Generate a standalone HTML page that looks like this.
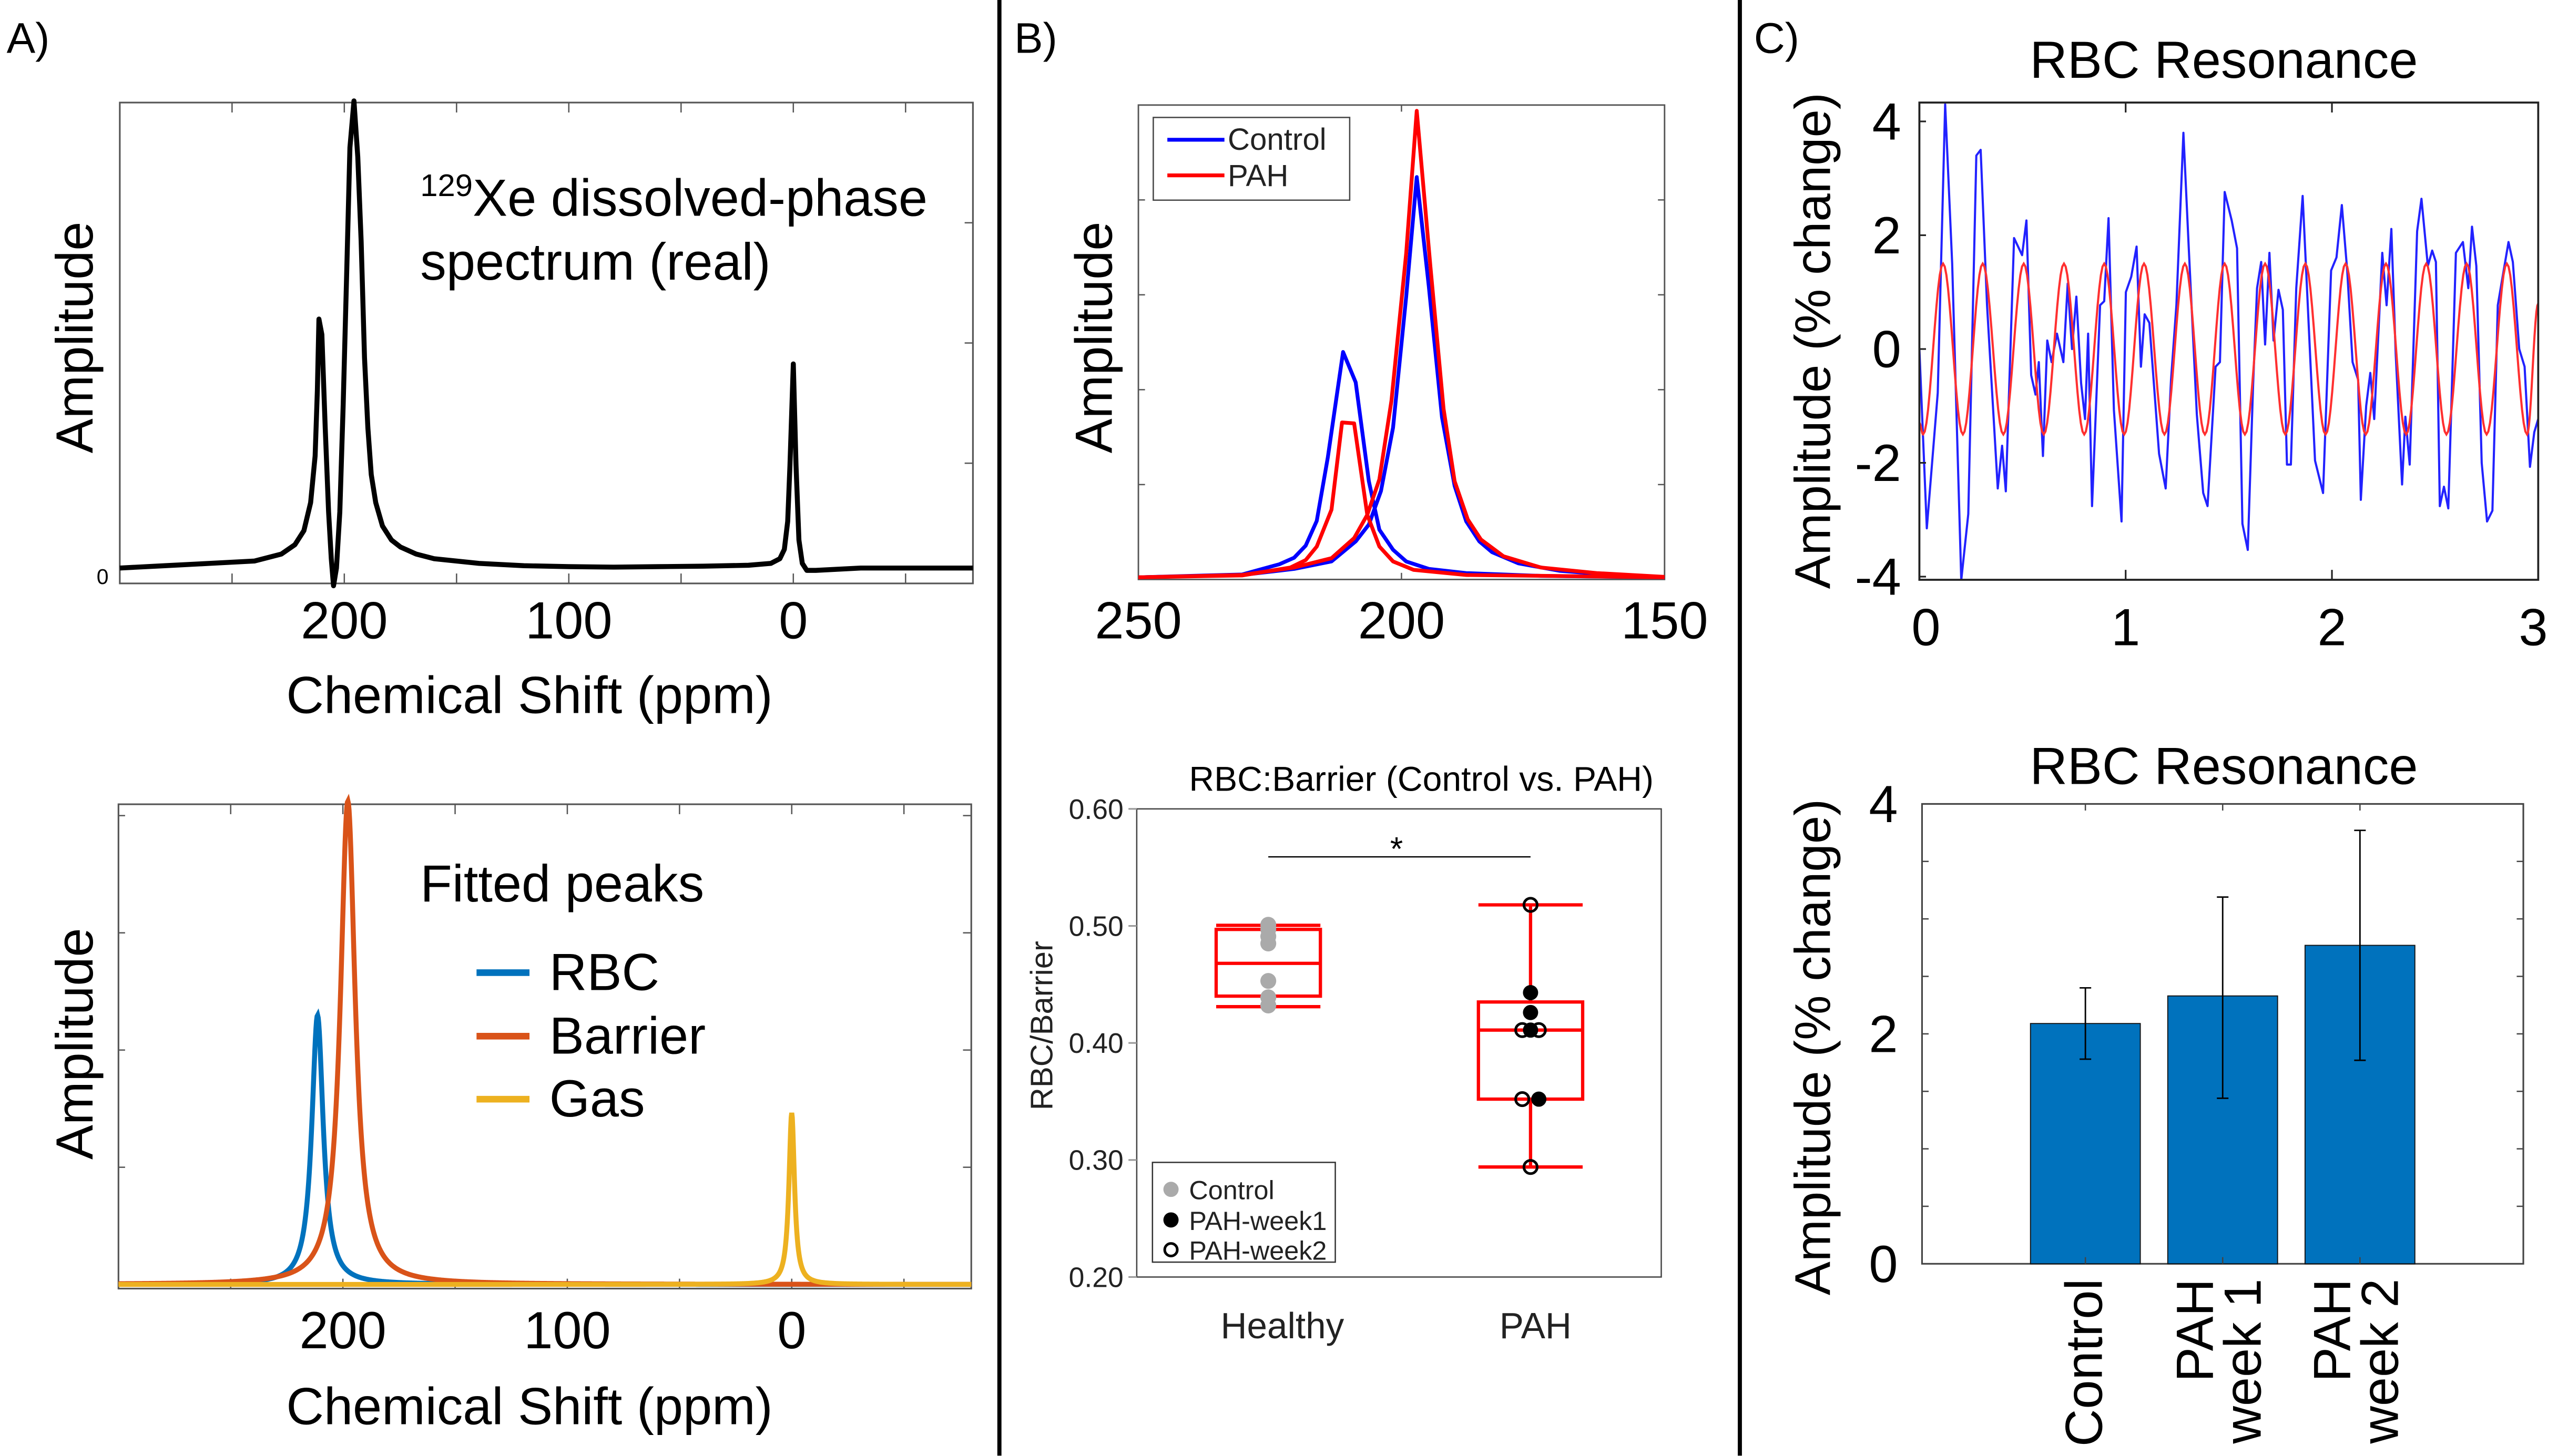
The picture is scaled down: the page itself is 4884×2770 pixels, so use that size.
<!DOCTYPE html>
<html><head><meta charset="utf-8"><style>
html,body{margin:0;padding:0;background:#fff;}
svg{display:block;font-family:"Liberation Sans",Arial,sans-serif;}
</style></head><body>
<svg id="fig" xmlns="http://www.w3.org/2000/svg" width="4884" height="2770" viewBox="0 0 1552 880.2" preserveAspectRatio="none"></svg>
<script>
// ---------- DATA ----------
// Panel A top: dissolved-phase spectrum (ppm, amplitude)
const specPpm = [300,280,260,240,228,222,218,215,213,212,211.3,210,208.5,207,205.8,204.8,203.5,202,200.5,199,197.5,195.7,194,192.5,191,189.5,188,186,183,179,175,168,160,140,120,100,80,60,40,20,10,6,4,2.5,1.5,0,-1.2,-2.5,-4,-6,-10,-30,-50,-80];
const specAmp = [0.0,0.005,0.01,0.015,0.03,0.05,0.08,0.14,0.24,0.38,0.533,0.50,0.30,0.12,0.02,-0.038,0.0,0.12,0.35,0.62,0.9,1.0,0.88,0.7,0.45,0.3,0.2,0.14,0.09,0.06,0.045,0.03,0.02,0.01,0.005,0.003,0.002,0.003,0.004,0.006,0.01,0.02,0.04,0.1,0.22,0.437,0.22,0.06,0.01,-0.005,-0.005,0.0,0.0,0.0];
// Panel A bottom: fitted peaks
const fitNames = ["RBC","Barrier","Gas"];
const fitCenters = [211.3,197.8,0];
const fitHeights = [0.557,1.0,0.355];
const fitWidths = [6.2,8,3];
// Panel B top: control vs PAH fitted components
const cRbcPpm = [250,230.3,223.2,220.4,218.2,216.1,214.0,211.1,208.7,206.2,204.2,201.6,199.1,194.8,187.7,173.5,150];
const cRbcAmp = [0,0.006,0.028,0.042,0.068,0.121,0.257,0.483,0.418,0.206,0.102,0.059,0.034,0.018,0.009,0.003,0];
const cBarPpm = [250,230.3,220.4,213.3,208.7,206.2,203.9,201.6,199.1,197.1,194.8,192.3,189.9,187.7,185.2,182.8,177.8,170.0,159.4,150];
const cBarAmp = [0,0.005,0.018,0.034,0.077,0.113,0.185,0.321,0.602,0.858,0.623,0.343,0.196,0.120,0.077,0.054,0.030,0.014,0.005,0];
const pRbcPpm = [250,230.3,221.1,218.2,216.1,213.3,211.3,209.0,206.5,204.2,201.6,197.7,187.7,150];
const pRbcAmp = [0,0.004,0.021,0.037,0.066,0.145,0.332,0.330,0.134,0.066,0.034,0.016,0.005,0];
const pBarPpm = [250,230.3,220.4,213.3,209.0,206.5,204.2,201.9,199.1,197.1,194.5,192.0,189.9,187.4,184.9,180.6,173.5,162.9,150];
const pBarAmp = [0,0.005,0.021,0.041,0.084,0.134,0.210,0.379,0.695,1.0,0.666,0.361,0.206,0.124,0.081,0.045,0.021,0.009,0.001];
// Panel B bottom: box plots
const boxCats = ["Healthy","PAH"];
const boxWhiskLo = [0.431,0.294];
const boxQ1 = [0.440,0.352];
const boxMed = [0.468,0.411];
const boxQ3 = [0.497,0.435];
const boxWhiskHi = [0.5005,0.518];
const controlPts = [0.501,0.497,0.491,0.485,0.453,0.439,0.432];
const week1Pts = [0.443,0.426,0.411,0.352];
const week1Off = [0,0,0,1];
const week2Pts = [0.518,0.411,0.411,0.352,0.294];
const week2Off = [0,-1,1,-1,0];
// Panel C top: RBC oscillation
const oscT = [0,0.036,0.089,0.125,0.159,0.203,0.237,0.276,0.297,0.328,0.380,0.401,0.419,0.459,0.498,0.519,0.542,0.563,0.579,0.599,0.620,0.641,0.667,0.698,0.719,0.740,0.761,0.784,0.803,0.818,0.837,0.876,0.896,0.917,0.943,0.980,1.001,1.027,1.053,1.074,1.092,1.115,1.162,1.194,1.220,1.246,1.280,1.306,1.345,1.376,1.397,1.436,1.457,1.480,1.514,1.540,1.566,1.592,1.618,1.637,1.657,1.676,1.697,1.717,1.741,1.762,1.782,1.801,1.827,1.858,1.879,1.918,1.957,1.996,2.022,2.048,2.074,2.100,2.127,2.140,2.166,2.186,2.205,2.244,2.265,2.288,2.309,2.340,2.356,2.377,2.413,2.434,2.465,2.486,2.504,2.523,2.543,2.564,2.601,2.635,2.661,2.679,2.700,2.726,2.752,2.778,2.804,2.856,2.877,2.908,2.934,2.960,2.981,3.0];
const oscV = [0,-3.15,-0.77,4.3,1.5,-4.06,-2.9,3.4,3.5,0.77,-2.45,-1.7,-2.5,1.95,1.65,2.26,-0.46,-0.8,-0.23,-1.88,0.15,-0.23,0.27,-0.23,1.15,0,0.92,-0.6,-1.23,0.27,-2.76,0.77,0.84,2.3,-1.07,-3.03,1.0,1.27,1.8,-0.31,0.61,0.46,-1.84,-2.45,-0.54,0.77,3.8,1.77,-1.15,-2.53,-2.76,-0.31,-0.23,2.76,2.26,1.77,-3.07,-3.53,-0.61,1.07,1.53,0.08,1.69,0.15,1.04,0.69,-2.03,-2.03,1.07,2.69,1.07,-1.96,-2.53,1.38,1.61,2.53,1.38,-0.23,-0.54,-2.65,-1.0,-0.42,-1.23,1.69,0.77,2.11,-0.08,-2.38,-1.19,-2.03,2.07,2.64,1.46,1.73,1.53,-2.76,-2.42,-2.8,1.69,1.88,1.07,2.15,1.46,-2.0,-3.03,-2.84,0.77,1.88,1.53,0,-0.31,-2.07,-1.46,-1.23];
const fitT = [0,0.018,0.115,0.211,0.307,0.407,0.506,0.603,0.701,0.799,0.896,0.993,1.089,1.188,1.287,1.384,1.480,1.578,1.676,1.774,1.871,1.969,2.066,2.164,2.262,2.360,2.457,2.555,2.653,2.750,2.848,2.946,3.0];
const fitV = [-1.3,-1.5,1.5,-1.5,1.5,-1.5,1.5,-1.5,1.5,-1.5,1.5,-1.5,1.5,-1.5,1.5,-1.5,1.5,-1.5,1.5,-1.5,1.5,-1.5,1.5,-1.5,1.5,-1.5,1.5,-1.5,1.5,-1.5,1.5,-1.5,0.8];
const cYTicks = [4,2,0,-2,-4];
const cXTicks = [0,1,2,3];
// Panel C bottom: bars
const barCats = [["Control"],["PAH","week 1"],["PAH","week 2"]];
const barVals = [2.09,2.33,2.77];
const barLo = [1.78,1.44,1.77];
const barHi = [2.40,3.19,3.77];

// ---------- HELPERS ----------
const NS="http://www.w3.org/2000/svg";
const svg=document.getElementById('fig');
const BIG=31.5;
function mk(tag,attrs,parent){const e=document.createElementNS(NS,tag);for(const k in attrs)e.setAttribute(k,attrs[k]);(parent||svg).appendChild(e);return e;}
function txt(s,x,y,size,opts,parent){opts=opts||{};const e=mk('text',{x:x,y:y,'font-size':size,'text-anchor':opts.anchor||'start',fill:opts.fill||'#000'},parent);if(opts.rot)e.setAttribute('transform','rotate(-90 '+x+' '+y+')');e.textContent=s;return e;}
function lin(d0,d1,r0,r1){return v=>r0+(v-d0)/(d1-d0)*(r1-r0);}
function pathFrom(xs,ys,fx,fy){return xs.map((x,i)=>(i?'L':'M')+fx(x).toFixed(2)+','+fy(ys[i]).toFixed(2)).join(' ');}

// ---------- PANEL LABELS / DIVIDERS ----------
let t;
t=txt('A)',4,32,26);
t=txt('B)',613,32,26);
t=txt('C)',1060,32,26);
let d=mk('line',{x1:604,y1:0,x2:604,y2:880,stroke:'#000','stroke-width':2.5});

d=mk('line',{x1:1051.5,y1:0,x2:1051.5,y2:880,stroke:'#000','stroke-width':2.5});


// ---------- PANEL A TOP ----------
(function(){
  const g=mk('g',{});
  const L=72.4,R=588,T=62,B=352.7;
  const fx=lin(300,-80,L,R), fy=lin(0,1,343.4,61);
  mk('rect',{x:L,y:T,width:R-L,height:B-T,fill:'none',stroke:'#555','stroke-width':1},g);
  for(let p=250;p>=-50;p-=50){mk('line',{x1:fx(p),y1:T,x2:fx(p),y2:T+6,stroke:'#555','stroke-width':0.8},g);mk('line',{x1:fx(p),y1:B,x2:fx(p),y2:B-6,stroke:'#555','stroke-width':0.8},g);}
  [0.25,0.5,0.75].forEach(f=>{const y=B-(B-T)*f;mk('line',{x1:R,y1:y,x2:R-5,y2:y,stroke:'#555','stroke-width':0.8},g);});
  const p=mk('path',{d:pathFrom(specPpm,specAmp,fx,fy),fill:'none',stroke:'#000','stroke-width':3,'stroke-linejoin':'round'},g);
  
  [200,100,0].forEach(v=>{const e=txt(String(v),fx(v),386,BIG,{anchor:'middle'},g);});
  let e=txt('0',62,353,13,{anchor:'middle'},g);
  e=txt('Chemical Shift (ppm)',320,431,BIG,{anchor:'middle'},g);
  e=txt('Amplitude',56,204,BIG,{anchor:'middle',rot:1},g);
  e=mk('text',{x:254,y:130.5,'font-size':BIG},g);e.innerHTML='<tspan font-size="19" dy="-12">129</tspan><tspan dy="12">Xe dissolved-phase</tspan>';
  
  e=txt('spectrum (real)',254,169,BIG,{},g);
})();

// ---------- PANEL A BOTTOM ----------
(function(){
  const g=mk('g',{});
  const L=71.6,R=587,T=486.2,B=779;
  const fx=lin(300,-80,L,R), fy=lin(0,1,776.5,484.3);
  mk('rect',{x:L,y:T,width:R-L,height:B-T,fill:'none',stroke:'#555','stroke-width':1},g);
  for(let p=250;p>=-50;p-=50){mk('line',{x1:fx(p),y1:T,x2:fx(p),y2:T+6,stroke:'#555','stroke-width':0.8},g);mk('line',{x1:fx(p),y1:B,x2:fx(p),y2:B-6,stroke:'#555','stroke-width':0.8},g);}
  [0.25,0.5,0.75,1].forEach(f=>{const y=fy(f*0.97);mk('line',{x1:R,y1:y,x2:R-5,y2:y,stroke:'#555','stroke-width':0.8},g);mk('line',{x1:L,y1:y,x2:L+4,y2:y,stroke:'#555','stroke-width':0.8},g);});
  const cols=['#0072BD','#D95319','#EDB120'];
  [0,1,2].forEach(i=>{
    let dd='';
    for(let p=300;p>=-80;p-=0.25){const h=fitWidths[i]/2;const v=fitHeights[i]*h*h/((p-fitCenters[i])*(p-fitCenters[i])+h*h);dd+=(dd?'L':'M')+fx(p).toFixed(2)+','+fy(v).toFixed(2);}
    const pe=mk('path',{d:dd,fill:'none',stroke:cols[i],'stroke-width':3},g);
    
  });
  [200,100,0].forEach(v=>{const e=txt(String(v),fx(v),815,BIG,{anchor:'middle'},g);});
  let e=txt('Chemical Shift (ppm)',320,861,BIG,{anchor:'middle'},g);
  e=txt('Amplitude',56,631,BIG,{anchor:'middle',rot:1},g);
  e=txt('Fitted peaks',254,545,BIG,{},g);
  const ly=[588,626.4,664.5];
  fitNames.forEach((n,i)=>{
    const lg=mk('g',{},g);
    mk('line',{x1:288,y1:ly[i],x2:320,y2:ly[i],stroke:cols[i],'stroke-width':4},lg);
    txt(n,332,ly[i]+10.5,BIG,{},lg);
  });
})();

// ---------- PANEL B TOP ----------
(function(){
  const g=mk('g',{});
  const L=688,R=1006,T=63.5,B=350.3;
  const fx=lin(250,150,L,R), fy=lin(0,1,349,67);
  mk('rect',{x:L,y:T,width:R-L,height:B-T,fill:'none',stroke:'#555','stroke-width':0.9},g);
  [0.2,0.4,0.6,0.8].forEach(f=>{const y=B-(B-T)*f*1.0;mk('line',{x1:L,y1:y,x2:L+4,y2:y,stroke:'#555','stroke-width':0.8},g);mk('line',{x1:R,y1:y,x2:R-4,y2:y,stroke:'#555','stroke-width':0.8},g);});
  mk('line',{x1:fx(200),y1:T,x2:fx(200),y2:T+4,stroke:'#555','stroke-width':0.8},g);mk('line',{x1:fx(200),y1:B,x2:fx(200),y2:B-4,stroke:'#555','stroke-width':0.8},g);
  const series=[[cRbcPpm,cRbcAmp,'#0000FF','control-rbc-line'],[cBarPpm,cBarAmp,'#0000FF','control-barrier-line'],[pRbcPpm,pRbcAmp,'#FF0000','pah-rbc-line'],[pBarPpm,pBarAmp,'#FF0000','pah-barrier-line']];
  series.forEach(s=>{const p=mk('path',{d:pathFrom(s[0],s[1],fx,fy),fill:'none',stroke:s[2],'stroke-width':2.3,'stroke-linejoin':'round'},g);
    });
  [250,200,150].forEach(v=>{const e=txt(String(v),fx(v),386,BIG,{anchor:'middle'},g);});
  let e=txt('Amplitude',672,204,BIG,{anchor:'middle',rot:1},g);
  const lg=mk('g',{},g);
  mk('rect',{x:697,y:71,width:118.7,height:50,fill:'#fff',stroke:'#444','stroke-width':0.8},lg);
  mk('line',{x1:705.5,y1:84.5,x2:740,y2:84.5,stroke:'#0000FF','stroke-width':2.3},lg);
  mk('line',{x1:705.5,y1:106,x2:740,y2:106,stroke:'#FF0000','stroke-width':2.3},lg);
  txt('Control',742,90.5,18.5,{fill:'#222'},lg);txt('PAH',742,112.5,18.5,{fill:'#222'},lg);
})();

// ---------- PANEL B BOTTOM ----------
(function(){
  const g=mk('g',{});
  const L=687,R=1004,T=489,B=772;
  const fy=lin(0.2,0.6,B,T);
  const cx=[766.5,925], half=31.5;
  let e=txt('RBC:Barrier (Control vs. PAH)',859,478,21,{anchor:'middle'},g);
  mk('rect',{x:L,y:T,width:R-L,height:B-T,fill:'none',stroke:'#444','stroke-width':0.8},g);
  [0.2,0.3,0.4,0.5,0.6].forEach(v=>{mk('line',{x1:L-5,y1:fy(v),x2:L,y2:fy(v),stroke:'#999','stroke-width':1},g);
    const te=txt(v.toFixed(2),679,fy(v)+6,17,{anchor:'end',fill:'#222'},g);});
  e=txt('RBC/Barrier',636,620,19,{anchor:'middle',rot:1,fill:'#222'},g);
  boxCats.forEach((c,i)=>{
    const bg=mk('g',{},g);
    const x=cx[i],st={stroke:'#FF0000','stroke-width':2,fill:'none'};
    mk('line',Object.assign({x1:x,y1:fy(boxWhiskHi[i]),x2:x,y2:fy(boxQ3[i])},st),bg);
    mk('line',Object.assign({x1:x,y1:fy(boxQ1[i]),x2:x,y2:fy(boxWhiskLo[i])},st),bg);
    mk('line',Object.assign({x1:x-half,y1:fy(boxWhiskHi[i]),x2:x+half,y2:fy(boxWhiskHi[i])},st),bg);
    mk('line',Object.assign({x1:x-half,y1:fy(boxWhiskLo[i]),x2:x+half,y2:fy(boxWhiskLo[i])},st),bg);
    mk('rect',Object.assign({x:x-half,y:fy(boxQ3[i]),width:2*half,height:fy(boxQ1[i])-fy(boxQ3[i])},st),bg);
    mk('line',Object.assign({x1:x-half,y1:fy(boxMed[i]),x2:x+half,y2:fy(boxMed[i])},st),bg);
    const ce=txt(c,i?928:775,809,22,{anchor:'middle',fill:'#222'},g);
  });
  controlPts.forEach(v=>{const c=mk('circle',{cx:cx[0],cy:fy(v),r:4.8,fill:'#AAAAAA'},g);});
  week1Pts.forEach((v,i)=>{const c=mk('circle',{cx:cx[1]+week1Off[i]*5,cy:fy(v),r:4.6,fill:'#000'},g);});
  week2Pts.forEach((v,i)=>{const c=mk('circle',{cx:cx[1]+week2Off[i]*5,cy:fy(v),r:4,fill:'none',stroke:'#000','stroke-width':1.6},g);});
  e=mk('line',{x1:cx[0],y1:518,x2:cx[1],y2:518,stroke:'#000','stroke-width':0.8},g);
  e=txt('*',844,520,20,{anchor:'middle'},g);
  const lg=mk('g',{},g);
  mk('rect',{x:696.5,y:702.7,width:110.5,height:60.3,fill:'#fff',stroke:'#333','stroke-width':0.8},lg);
  mk('circle',{cx:707.7,cy:719,r:4.6,fill:'#AAAAAA'},lg);
  mk('circle',{cx:707.7,cy:737.5,r:4.6,fill:'#000'},lg);
  mk('circle',{cx:707.7,cy:755.5,r:3.8,fill:'none',stroke:'#000','stroke-width':1.6},lg);
  txt('Control',718.6,725,16,{fill:'#222'},lg);txt('PAH-week1',718.6,743.5,16,{fill:'#222'},lg);txt('PAH-week2',718.6,761.5,16,{fill:'#222'},lg);
})();

// ---------- PANEL C TOP ----------
(function(){
  const g=mk('g',{});
  const L=1160,R=1534,T=62,B=350.5;
  const fx=lin(0,3,L,R), fy=lin(0,1,211,176.6);
  let e=txt('RBC Resonance',1344,47,BIG,{anchor:'middle'},g);
  const cp=mk('clipPath',{id:'cclip'},g);mk('rect',{x:L,y:T,width:R-L,height:B-T},cp);
  const pg=mk('g',{'clip-path':'url(#cclip)'},g);
  let p=mk('path',{d:pathFrom(oscT,oscV,fx,fy),fill:'none',stroke:'#2222FF','stroke-width':1.3,'stroke-linejoin':'round'},pg);
  
  let dd='M'+fx(fitT[0]).toFixed(2)+','+fy(fitV[0]).toFixed(2);
  for(let i=0;i<fitT.length-1;i++){for(let k=1;k<=12;k++){const f=k/12;const v=fitV[i]+(fitV[i+1]-fitV[i])*(1-Math.cos(Math.PI*f))/2;const tt=fitT[i]+(fitT[i+1]-fitT[i])*f;dd+='L'+fx(tt).toFixed(2)+','+fy(v).toFixed(2);}}
  p=mk('path',{d:dd,fill:'none',stroke:'#FF3030','stroke-width':1.3},pg);
  
  mk('rect',{x:L,y:T,width:R-L,height:B-T,fill:'none',stroke:'#222','stroke-width':1.2},g);
  cYTicks.forEach(v=>{mk('line',{x1:L,y1:fy(v),x2:L+4,y2:fy(v),stroke:'#222','stroke-width':1},g);
    const te=txt(String(v),1149,fy(v)+11,BIG,{anchor:'end'},g);});
  cXTicks.forEach(v=>{mk('line',{x1:fx(v),y1:T,x2:fx(v),y2:T+6,stroke:'#222','stroke-width':1},g);mk('line',{x1:fx(v),y1:B,x2:fx(v),y2:B-6,stroke:'#222','stroke-width':1},g);
    const te=txt(String(v),fx(v)+(v===0?4:v===3?-3:0),390,BIG,{anchor:'middle'},g);});
  e=txt('Amplitude (% change)',1106,206,30.5,{anchor:'middle',rot:1},g);
})();

// ---------- PANEL C BOTTOM ----------
(function(){
  const g=mk('g',{});
  const L=1161.6,R=1525,T=486,B=764;
  const fx=lin(-0.19,4.19,L,R), fy=lin(0,4,B,T);
  let e=txt('RBC Resonance',1344,474,BIG,{anchor:'middle'},g);
  mk('rect',{x:L,y:T,width:R-L,height:B-T,fill:'none',stroke:'#444','stroke-width':1},g);
  for(let v=0.5;v<4;v+=0.5){mk('line',{x1:L,y1:fy(v),x2:L+4,y2:fy(v),stroke:'#444','stroke-width':0.8},g);mk('line',{x1:R,y1:fy(v),x2:R-4,y2:fy(v),stroke:'#444','stroke-width':0.8},g);}
  [0,2,4].forEach(v=>{const te=txt(String(v),1147,fy(v)+11,BIG,{anchor:'end'},g);});
  barVals.forEach((v,i)=>{
    const x=i+1;
    const r=mk('rect',{x:fx(x-0.4),y:fy(v),width:fx(x+0.4)-fx(x-0.4),height:fy(0)-fy(v),fill:'#0072BD',stroke:'#111','stroke-width':0.6},g);
    
    mk('line',{x1:fx(x),y1:T,x2:fx(x),y2:T+4,stroke:'#444','stroke-width':0.8},g);
    mk('line',{x1:fx(x),y1:B,x2:fx(x),y2:B-4,stroke:'#444','stroke-width':0.8},g);
    const eb=mk('g',{},g);
    mk('line',{x1:fx(x),y1:fy(barLo[i]),x2:fx(x),y2:fy(barHi[i]),stroke:'#000','stroke-width':0.9},eb);
    mk('line',{x1:fx(x)-3.5,y1:fy(barLo[i]),x2:fx(x)+3.5,y2:fy(barLo[i]),stroke:'#000','stroke-width':0.9},eb);
    mk('line',{x1:fx(x)-3.5,y1:fy(barHi[i]),x2:fx(x)+3.5,y2:fy(barHi[i]),stroke:'#000','stroke-width':0.9},eb);
    const lines=barCats[i];
    lines.forEach((s,k)=>{
      const bx=lines.length===1?fx(x)+10:fx(x)+(k===0?-6:23);
      const te=txt(s,bx,773,BIG,{anchor:'end',rot:1},g);
    });
  });
  e=txt('Amplitude (% change)',1106,633,30.5,{anchor:'middle',rot:1},g);
})();
</script>
</body></html>
